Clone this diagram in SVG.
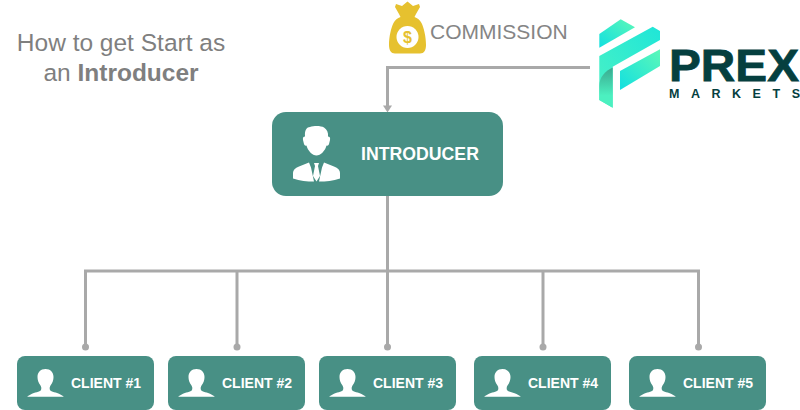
<svg xmlns="http://www.w3.org/2000/svg" width="800" height="410" viewBox="0 0 800 410">
<style>
text{font-family:"Liberation Sans",Arial,sans-serif}
.box{fill:#489085}
.wire{fill:none;stroke:#a9a9a9;stroke-width:3}
.dot{fill:#a9a9a9}
.lbl{fill:#fff;font-weight:700;font-size:14px}
.icon{fill:#fff}
.title{fill:#7f7f7f;font-size:24.500px;text-anchor:middle}
</style>
<defs>
<linearGradient id="g1" x1="0" y1="1" x2="1" y2="0"><stop offset="0" stop-color="#4cf2c4"/><stop offset="1" stop-color="#1fe6d8"/></linearGradient>
<linearGradient id="g2" x1="0" y1="1" x2="1" y2="0"><stop offset="0" stop-color="#12dfe0"/><stop offset="1" stop-color="#5cf8b8"/></linearGradient>
<linearGradient id="g3" x1="0" y1="0" x2="0" y2="1"><stop offset="0" stop-color="#3aa98f"/><stop offset=".7" stop-color="#4cf0c0"/></linearGradient>
<path id="person" d="M0 0c-5 0-8 3.500-8 8 0 3 1 6 3 8.500 1 1.500 1 3 .5 4.500-1 2-7 2.500-9.500 4-2.500 1.300-4.200 2.700-4.500 2.700h37c-.3 0-2-1.400-4.500-2.700-2.500-1.500-8.500-2-9.500-4-.5-1.500-.5-3 .5-4.500 2-2.500 3-5.500 3-8.500C8 3.500 5 0 0 0z"/>
</defs>
<g id="title">
<text class="title" x="121" y="51">How to get Start as</text>
<text class="title" x="121" y="81">an <tspan font-weight="700">Introducer</tspan></text>
</g>
<g id="connectors">
<path class="wire" d="M590 67.500H387.500V106"/>
<path class="dot" d="M383 105.500h9l-4.500 7z"/>
<path class="wire" d="M387.500 196V271"/>
<path class="wire" d="M85.500 347V271H698.500V347"/>
<path class="wire" d="M237 271V347M387.500 271V347M543 271V347"/>
<circle class="dot" cx="85.500" cy="347" r="3.500"/>
<circle class="dot" cx="237" cy="347" r="3.500"/>
<circle class="dot" cx="387.500" cy="347" r="3.500"/>
<circle class="dot" cx="543" cy="347" r="3.500"/>
<circle class="dot" cx="698.500" cy="347" r="3.500"/>
</g>
<g id="commission">
<path fill="#e6c12f" d="M396 4l6 2 5.500-4.500 5.500 4.500 6-2 1 3-4 7c-.5 1-1 2-1.500 3 3 1 5.500 3 7 6 2.500 5 4.500 14 4.500 22 0 5-2 8.500-6 8.500h-25c-4 0-6-3.500-6-8.500 0-8 2-17 4.500-22 1.500-3 4-5 7-6-.5-1-1-2-1.500-3l-4-7z"/>
<circle cx="407.500" cy="37" r="11" fill="#fff"/>
<text x="407.500" y="43" font-size="16" font-weight="700" fill="#e6c12f" text-anchor="middle">$</text>
<text x="430" y="39" font-size="21px" fill="#858585">COMMISSION</text>
</g>
<g id="logo">
<path fill="url(#g2)" d="M599.300 34L620.700 19.300 635 27.300 599.300 47.700z"/>
<path fill="url(#g1)" d="M599.300 56L652.700 26.700 660 31V40L612.700 66.700V107.700L599.300 100z"/>
<path fill="url(#g3)" d="M612.700 67.500V107.700L599.300 100V86c0-9 6-15 13.400-18.500z"/>
<path fill="url(#g2)" d="M620 71L660 49.300V66L620 90z"/>
<text x="669" y="81" font-family="Inter,'Liberation Sans',sans-serif" font-size="45" font-weight="900" fill="#053f3f" stroke="#053f3f" stroke-width=".8" textLength="130" lengthAdjust="spacingAndGlyphs">PREX</text>
<text x="669" y="98" font-family="Inter,'Liberation Sans',sans-serif" font-size="12.500" font-weight="900" fill="#053f3f" textLength="131">MARKETS</text>
</g>
<g id="introducer">
<rect class="box" x="272" y="112" width="231" height="84" rx="14"/>
<path class="icon" d="M305 136c-.5-6 2-9 5-9 4-1.500 11-1.500 14 .5 3 2 4.500 5 4 9 1.500 0 2.500 1 2 3.500l-1 4c-.5 1.500-1.500 2-2.500 1.500-1 5-6 10-10 10s-9-5-10-10c-1 .5-2 0-2.500-1.500l-1-4c-.5-2.500.5-3.500 2-3.500z"/>
<path class="icon" d="M293 173c0-3 2-5 6-6.500l10-4 2 5 3 14c-7 0-14-.5-21-3zM340 173c0-3-2-5-6-6.500l-10-4-2 5-3 14c7 0 14-.5 21-3zM314 163h5l-1 3 2 10-3.500 5.500-3.500-5.500 2-10z"/>
<path fill="none" stroke="#489085" stroke-width="1" d="M310 161l3.500 7M323 161l-3.500 7"/>
<text x="361" y="160" font-size="17.700px" font-weight="700" fill="#fff">INTRODUCER</text>
</g>
<g id="client1">
<rect class="box" x="17" y="356" width="137" height="54" rx="8"/>
<use href="#person" class="icon" transform="translate(45.500 369)"/>
<text class="lbl" x="71" y="388">CLIENT #1</text>
</g>
<g id="client2">
<rect class="box" x="168" y="356" width="137" height="54" rx="8"/>
<use href="#person" class="icon" transform="translate(196.500 369)"/>
<text class="lbl" x="222" y="388">CLIENT #2</text>
</g>
<g id="client3">
<rect class="box" x="319" y="356" width="137" height="54" rx="8"/>
<use href="#person" class="icon" transform="translate(347.500 369)"/>
<text class="lbl" x="373" y="388">CLIENT #3</text>
</g>
<g id="client4">
<rect class="box" x="474" y="356" width="137" height="54" rx="8"/>
<use href="#person" class="icon" transform="translate(502.500 369)"/>
<text class="lbl" x="528" y="388">CLIENT #4</text>
</g>
<g id="client5">
<rect class="box" x="629" y="356" width="137" height="54" rx="8"/>
<use href="#person" class="icon" transform="translate(657.500 369)"/>
<text class="lbl" x="683" y="388">CLIENT #5</text>
</g>
</svg>
